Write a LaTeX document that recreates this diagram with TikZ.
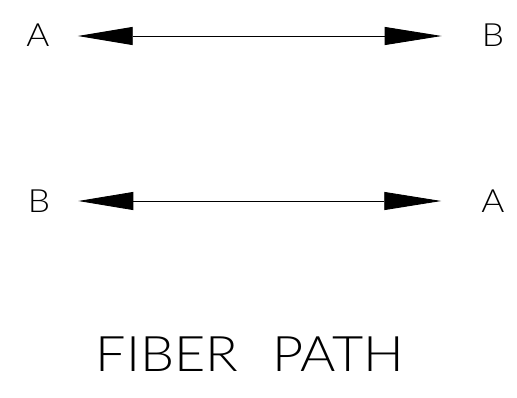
\documentclass[tikz,border=0pt]{standalone}
\usepackage{fontspec}
\newfontfamily\cadfont[FakeStretch=1.1]{Lato Light}
\usetikzlibrary{arrows.meta,positioning}
\tikzset{
  endlbl/.style={inner sep=0pt,font=\cadfont\fontsize{32}{32}\selectfont},
  fiberln/.style={line width=0.9pt,{Triangle[length=55pt,width=18pt]}-{Triangle[length=57pt,width=18pt]},shorten <=28pt,shorten >=40pt}
}

\begin{document}
\begin{tikzpicture}[x=1pt,y=-1pt]
    \useasboundingbox (0,0) rectangle (517,397);
    \node[endlbl] (a1) at (38,35) {A};
    \node[endlbl] (b1) at (493,35.5) {B};
    \node[endlbl] (b2) at (39,201.5) {B};
    \node[endlbl] (a2) at (493,201.5) {A};
    \draw[fiberln] (a1.east |- 0,36) -- (b1.west |- 0,36);
    \draw[fiberln] (b2.east |- 0,201) -- (a2.west |- 0,201);
    \node[inner sep=0pt,font=\cadfont\fontsize{49}{49}\selectfont] (title) at (250,354.5) {FIBER\hspace{34pt}PATH};
\end{tikzpicture}
\end{document}
